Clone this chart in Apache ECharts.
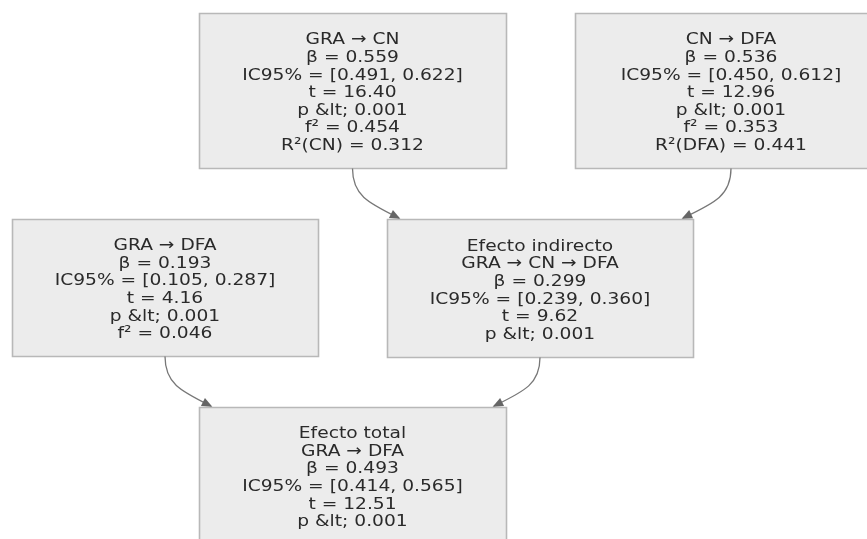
<!DOCTYPE html>
<html>
<head>
<meta charset="utf-8">
<script src="https://cdn.jsdelivr.net/npm/echarts@6/dist/echarts.min.js"></script>
<style>html,body{margin:0;padding:0;background:#fff}#c{width:867px;height:539px}</style>
</head>
<body>
<div id="c"></div>
<script>
// ---- Data: node texts ----
const nodeIds = ['graCn', 'cnDfa', 'graDfa', 'indirect', 'total'];
const textGraCn = ['GRA → CN', 'β = 0.559', 'IC95% = [0.491, 0.622]', 't = 16.40', 'p &lt; 0.001', 'f² = 0.454', 'R²(CN) = 0.312'];
const textCnDfa = ['CN → DFA', 'β = 0.536', 'IC95% = [0.450, 0.612]', 't = 12.96', 'p &lt; 0.001', 'f² = 0.353', 'R²(DFA) = 0.441'];
const textGraDfa = ['GRA → DFA', 'β = 0.193', 'IC95% = [0.105, 0.287]', 't = 4.16', 'p &lt; 0.001', 'f² = 0.046'];
const textIndirect = ['Efecto indirecto', 'GRA → CN → DFA', 'β = 0.299', 'IC95% = [0.239, 0.360]', 't = 9.62', 'p &lt; 0.001'];
const textTotal = ['Efecto total', 'GRA → DFA', 'β = 0.493', 'IC95% = [0.414, 0.565]', 't = 12.51', 'p &lt; 0.001'];
const nodeTexts = [textGraCn, textCnDfa, textGraDfa, textIndirect, textTotal];
// ---- Data: edges (source, target) ----
const edgeSources = ['graCn', 'cnDfa', 'graDfa', 'indirect'];
const edgeTargets = ['indirect', 'indirect', 'total', 'total'];

// ---- Layout (positions / sizes only) ----
const boxLayout = {
  graCn:    {x: 199, y: 13,  w: 307, h: 155},
  cnDfa:    {x: 575, y: 13,  w: 312, h: 155},
  graDfa:   {x: 12,  y: 219, w: 306, h: 137},
  indirect: {x: 387, y: 219, w: 306, h: 138},
  total:    {x: 199, y: 407, w: 307, h: 137}
};
// target x on the receiving box's top edge
const edgeTargetX = [399, 683, 211, 494];

const LINE_H = 17.6;
const FONT = '16.5px "DejaVu Sans", sans-serif';
const TEXT_SCALE_X = 1.13;
const elements = [];

nodeIds.forEach((id, i) => {
  const b = boxLayout[id];
  elements.push({
    type: 'rect',
    shape: {x: b.x + 0.5, y: b.y + 0.5, width: b.w, height: b.h},
    style: {fill: '#ececec', stroke: '#b8b8b8', lineWidth: 1.6},
    z: 1
  });
  const lines = nodeTexts[i];
  const cy = b.y + b.h / 2 + 2.5;
  lines.forEach((t, k) => {
    elements.push({
      type: 'text',
      x: b.x + b.w / 2,
      y: cy + (k - (lines.length - 1) / 2) * LINE_H,
      scaleX: TEXT_SCALE_X,
      style: {text: t, font: FONT, fill: '#2a2a2a', align: 'center', verticalAlign: 'middle'},
      z: 3
    });
  });
});

edgeSources.forEach((s, i) => {
  const sb = boxLayout[s], tb = boxLayout[edgeTargets[i]];
  const x1 = sb.x + sb.w / 2, y1 = sb.y + sb.h + 0.5;
  const x2 = edgeTargetX[i], y2 = tb.y - 1;
  const dy = y2 - y1;
  const cp1x = x1, cp1y = y1 + dy * 0.55;
  const cp2x = x1 + (x2 - x1) * 0.35, cp2y = y1 + dy * 0.7;
  elements.push({
    type: 'bezierCurve',
    shape: {x1, y1, x2, y2, cpx1: cp1x, cpy1: cp1y, cpx2: cp2x, cpy2: cp2y},
    style: {stroke: '#777', lineWidth: 1.3, fill: null},
    z: 2
  });
  const ang = Math.atan2(y2 - cp2y, x2 - cp2x);
  const L = 9, W = 4.5;
  const bx = x2 - L * Math.cos(ang), by = y2 - L * Math.sin(ang);
  const px = -Math.sin(ang) * W, py = Math.cos(ang) * W;
  elements.push({
    type: 'polygon',
    shape: {points: [[x2 + 1.5 * Math.cos(ang), y2 + 1.5 * Math.sin(ang)], [bx + px, by + py], [bx - px, by - py]]},
    style: {fill: '#666'},
    z: 2
  });
});

const chart = echarts.init(document.getElementById('c'), null, {renderer: 'canvas'});
chart.setOption({
  animation: false,
  backgroundColor: '#ffffff',
  graphic: {elements}
});
</script>
</body>
</html>
